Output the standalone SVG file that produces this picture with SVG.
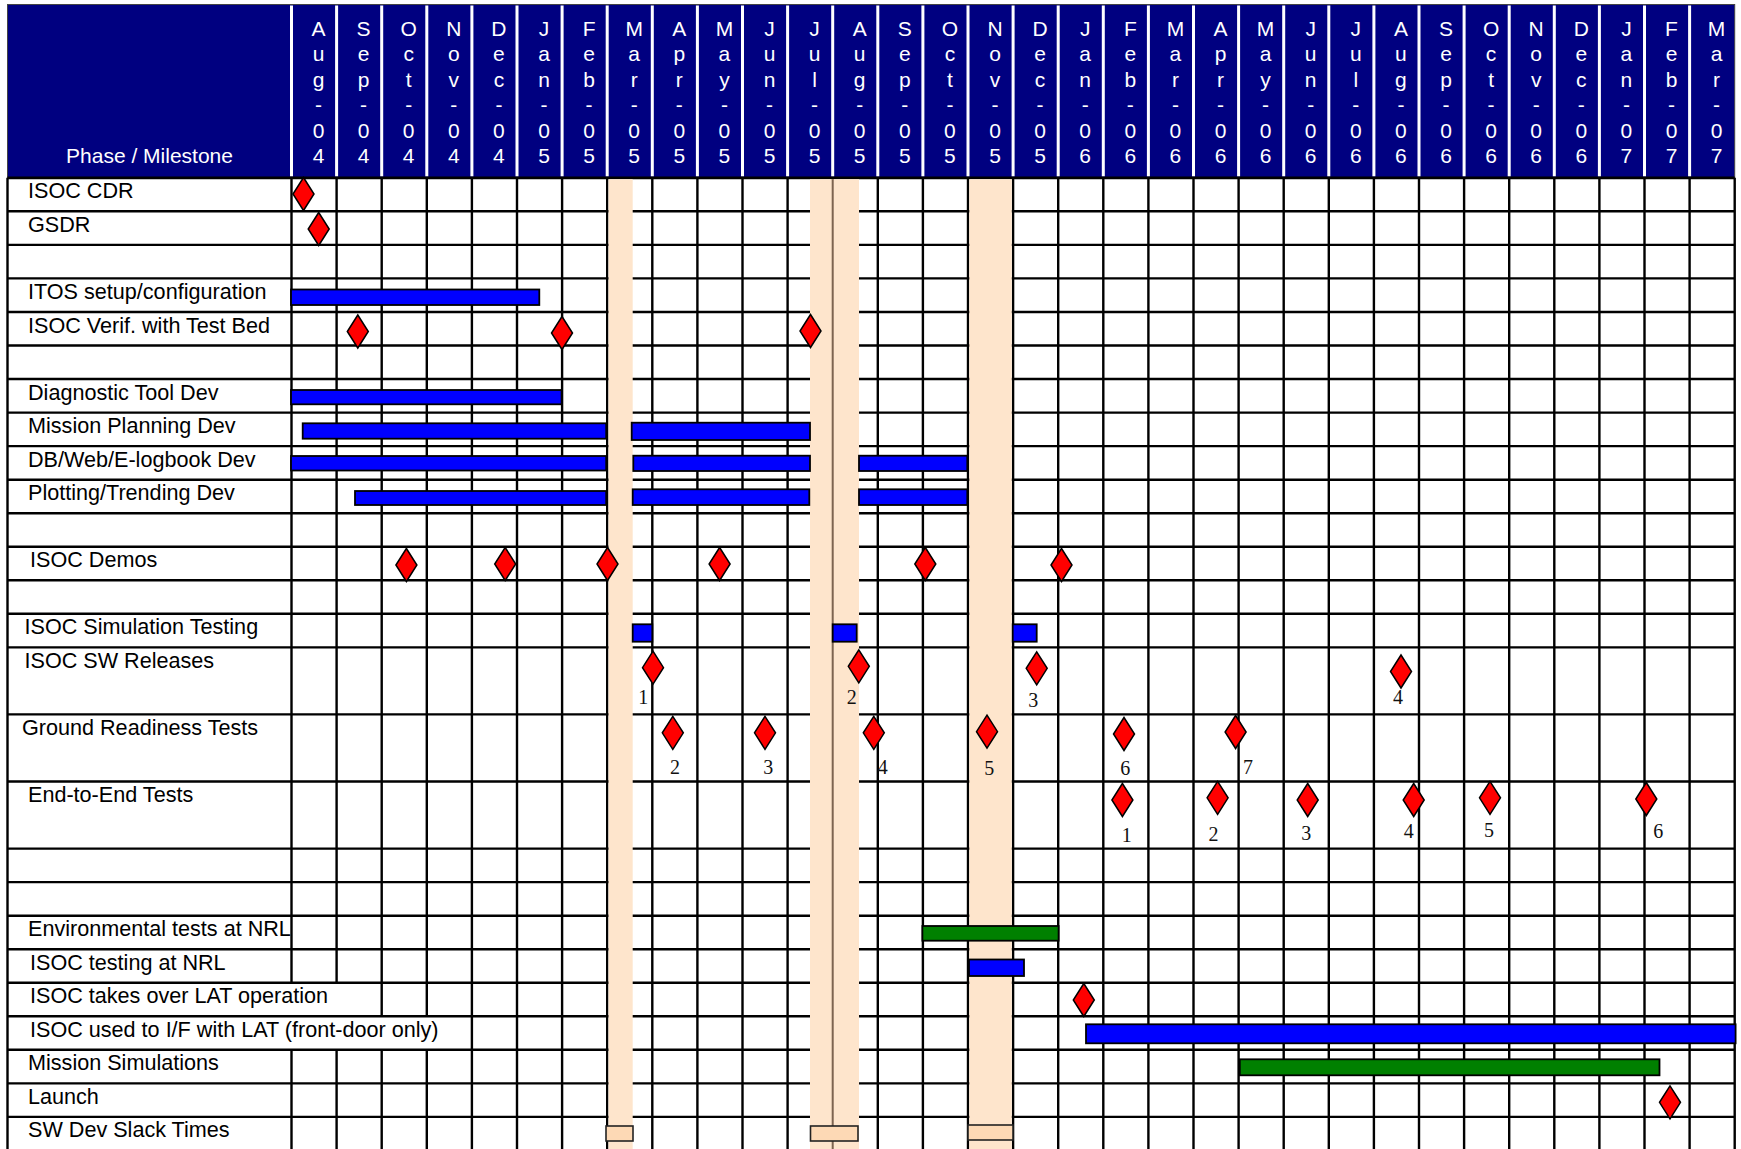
<svg xmlns="http://www.w3.org/2000/svg" xmlns:xlink="http://www.w3.org/1999/xlink" width="1741" height="1149" viewBox="0 0 1741 1149">
<style>
.hd{font-family:"Liberation Sans",Arial,sans-serif;font-size:21px;fill:#fff;text-anchor:middle}
.lb{font-family:"Liberation Sans",Arial,sans-serif;font-size:21.6px;fill:#000}
.num{font-family:"Liberation Serif","Times New Roman",serif;font-size:20px;fill:#111;text-anchor:middle}
.grid{stroke:#000;stroke-width:2.4;fill:none}
.band{fill:#FEE5CC}
.bar{fill:#0000FF;stroke:#000;stroke-width:1.8}
.gbar{fill:#008000;stroke:#000;stroke-width:1.8}
.slack{fill:#FDD9B5;stroke:#222;stroke-width:1.6}
.dia{fill:#FF0000;stroke:#000;stroke-width:1.5}
</style>
<defs>
<path id="dia" d="M0,-16.5 L10.5,0 L0,16.5 L-10.5,0 Z"/>
</defs>
<rect x="0" y="0" width="1741" height="1149" fill="#fff"/>
<g id="header">
<rect x="7.5" y="4.5" width="1727.2" height="173.3" fill="#000080" stroke="#444" stroke-width="1"/>
<path stroke="#fff" stroke-width="3" d="M291.5,5.5V176.5M336.6,5.5V176.5M381.7,5.5V176.5M426.8,5.5V176.5M471.9,5.5V176.5M517,5.5V176.5M562.1,5.5V176.5M607.2,5.5V176.5M652.3,5.5V176.5M697.4,5.5V176.5M742.5,5.5V176.5M787.6,5.5V176.5M832.7,5.5V176.5M877.8,5.5V176.5M922.9,5.5V176.5M968,5.5V176.5M1013.1,5.5V176.5M1058.2,5.5V176.5M1103.3,5.5V176.5M1148.4,5.5V176.5M1193.5,5.5V176.5M1238.6,5.5V176.5M1283.7,5.5V176.5M1328.8,5.5V176.5M1373.9,5.5V176.5M1419,5.5V176.5M1464.1,5.5V176.5M1509.2,5.5V176.5M1554.3,5.5V176.5M1599.4,5.5V176.5M1644.5,5.5V176.5M1689.6,5.5V176.5"/>
<text class="hd" x="149.5" y="163">Phase / Milestone</text>
<text class="hd"><tspan x="318.5" y="35.5">A</tspan><tspan x="318.5" y="61">u</tspan><tspan x="318.5" y="86.5">g</tspan><tspan x="318.5" y="112">-</tspan><tspan x="318.5" y="137.5">0</tspan><tspan x="318.5" y="163">4</tspan></text>
<text class="hd"><tspan x="363.6" y="35.5">S</tspan><tspan x="363.6" y="61">e</tspan><tspan x="363.6" y="86.5">p</tspan><tspan x="363.6" y="112">-</tspan><tspan x="363.6" y="137.5">0</tspan><tspan x="363.6" y="163">4</tspan></text>
<text class="hd"><tspan x="408.7" y="35.5">O</tspan><tspan x="408.7" y="61">c</tspan><tspan x="408.7" y="86.5">t</tspan><tspan x="408.7" y="112">-</tspan><tspan x="408.7" y="137.5">0</tspan><tspan x="408.7" y="163">4</tspan></text>
<text class="hd"><tspan x="453.8" y="35.5">N</tspan><tspan x="453.8" y="61">o</tspan><tspan x="453.8" y="86.5">v</tspan><tspan x="453.8" y="112">-</tspan><tspan x="453.8" y="137.5">0</tspan><tspan x="453.8" y="163">4</tspan></text>
<text class="hd"><tspan x="498.9" y="35.5">D</tspan><tspan x="498.9" y="61">e</tspan><tspan x="498.9" y="86.5">c</tspan><tspan x="498.9" y="112">-</tspan><tspan x="498.9" y="137.5">0</tspan><tspan x="498.9" y="163">4</tspan></text>
<text class="hd"><tspan x="544" y="35.5">J</tspan><tspan x="544" y="61">a</tspan><tspan x="544" y="86.5">n</tspan><tspan x="544" y="112">-</tspan><tspan x="544" y="137.5">0</tspan><tspan x="544" y="163">5</tspan></text>
<text class="hd"><tspan x="589.1" y="35.5">F</tspan><tspan x="589.1" y="61">e</tspan><tspan x="589.1" y="86.5">b</tspan><tspan x="589.1" y="112">-</tspan><tspan x="589.1" y="137.5">0</tspan><tspan x="589.1" y="163">5</tspan></text>
<text class="hd"><tspan x="634.2" y="35.5">M</tspan><tspan x="634.2" y="61">a</tspan><tspan x="634.2" y="86.5">r</tspan><tspan x="634.2" y="112">-</tspan><tspan x="634.2" y="137.5">0</tspan><tspan x="634.2" y="163">5</tspan></text>
<text class="hd"><tspan x="679.3" y="35.5">A</tspan><tspan x="679.3" y="61">p</tspan><tspan x="679.3" y="86.5">r</tspan><tspan x="679.3" y="112">-</tspan><tspan x="679.3" y="137.5">0</tspan><tspan x="679.3" y="163">5</tspan></text>
<text class="hd"><tspan x="724.4" y="35.5">M</tspan><tspan x="724.4" y="61">a</tspan><tspan x="724.4" y="86.5">y</tspan><tspan x="724.4" y="112">-</tspan><tspan x="724.4" y="137.5">0</tspan><tspan x="724.4" y="163">5</tspan></text>
<text class="hd"><tspan x="769.5" y="35.5">J</tspan><tspan x="769.5" y="61">u</tspan><tspan x="769.5" y="86.5">n</tspan><tspan x="769.5" y="112">-</tspan><tspan x="769.5" y="137.5">0</tspan><tspan x="769.5" y="163">5</tspan></text>
<text class="hd"><tspan x="814.6" y="35.5">J</tspan><tspan x="814.6" y="61">u</tspan><tspan x="814.6" y="86.5">l</tspan><tspan x="814.6" y="112">-</tspan><tspan x="814.6" y="137.5">0</tspan><tspan x="814.6" y="163">5</tspan></text>
<text class="hd"><tspan x="859.7" y="35.5">A</tspan><tspan x="859.7" y="61">u</tspan><tspan x="859.7" y="86.5">g</tspan><tspan x="859.7" y="112">-</tspan><tspan x="859.7" y="137.5">0</tspan><tspan x="859.7" y="163">5</tspan></text>
<text class="hd"><tspan x="904.8" y="35.5">S</tspan><tspan x="904.8" y="61">e</tspan><tspan x="904.8" y="86.5">p</tspan><tspan x="904.8" y="112">-</tspan><tspan x="904.8" y="137.5">0</tspan><tspan x="904.8" y="163">5</tspan></text>
<text class="hd"><tspan x="949.9" y="35.5">O</tspan><tspan x="949.9" y="61">c</tspan><tspan x="949.9" y="86.5">t</tspan><tspan x="949.9" y="112">-</tspan><tspan x="949.9" y="137.5">0</tspan><tspan x="949.9" y="163">5</tspan></text>
<text class="hd"><tspan x="995" y="35.5">N</tspan><tspan x="995" y="61">o</tspan><tspan x="995" y="86.5">v</tspan><tspan x="995" y="112">-</tspan><tspan x="995" y="137.5">0</tspan><tspan x="995" y="163">5</tspan></text>
<text class="hd"><tspan x="1040.1" y="35.5">D</tspan><tspan x="1040.1" y="61">e</tspan><tspan x="1040.1" y="86.5">c</tspan><tspan x="1040.1" y="112">-</tspan><tspan x="1040.1" y="137.5">0</tspan><tspan x="1040.1" y="163">5</tspan></text>
<text class="hd"><tspan x="1085.2" y="35.5">J</tspan><tspan x="1085.2" y="61">a</tspan><tspan x="1085.2" y="86.5">n</tspan><tspan x="1085.2" y="112">-</tspan><tspan x="1085.2" y="137.5">0</tspan><tspan x="1085.2" y="163">6</tspan></text>
<text class="hd"><tspan x="1130.3" y="35.5">F</tspan><tspan x="1130.3" y="61">e</tspan><tspan x="1130.3" y="86.5">b</tspan><tspan x="1130.3" y="112">-</tspan><tspan x="1130.3" y="137.5">0</tspan><tspan x="1130.3" y="163">6</tspan></text>
<text class="hd"><tspan x="1175.4" y="35.5">M</tspan><tspan x="1175.4" y="61">a</tspan><tspan x="1175.4" y="86.5">r</tspan><tspan x="1175.4" y="112">-</tspan><tspan x="1175.4" y="137.5">0</tspan><tspan x="1175.4" y="163">6</tspan></text>
<text class="hd"><tspan x="1220.5" y="35.5">A</tspan><tspan x="1220.5" y="61">p</tspan><tspan x="1220.5" y="86.5">r</tspan><tspan x="1220.5" y="112">-</tspan><tspan x="1220.5" y="137.5">0</tspan><tspan x="1220.5" y="163">6</tspan></text>
<text class="hd"><tspan x="1265.6" y="35.5">M</tspan><tspan x="1265.6" y="61">a</tspan><tspan x="1265.6" y="86.5">y</tspan><tspan x="1265.6" y="112">-</tspan><tspan x="1265.6" y="137.5">0</tspan><tspan x="1265.6" y="163">6</tspan></text>
<text class="hd"><tspan x="1310.7" y="35.5">J</tspan><tspan x="1310.7" y="61">u</tspan><tspan x="1310.7" y="86.5">n</tspan><tspan x="1310.7" y="112">-</tspan><tspan x="1310.7" y="137.5">0</tspan><tspan x="1310.7" y="163">6</tspan></text>
<text class="hd"><tspan x="1355.8" y="35.5">J</tspan><tspan x="1355.8" y="61">u</tspan><tspan x="1355.8" y="86.5">l</tspan><tspan x="1355.8" y="112">-</tspan><tspan x="1355.8" y="137.5">0</tspan><tspan x="1355.8" y="163">6</tspan></text>
<text class="hd"><tspan x="1400.9" y="35.5">A</tspan><tspan x="1400.9" y="61">u</tspan><tspan x="1400.9" y="86.5">g</tspan><tspan x="1400.9" y="112">-</tspan><tspan x="1400.9" y="137.5">0</tspan><tspan x="1400.9" y="163">6</tspan></text>
<text class="hd"><tspan x="1446" y="35.5">S</tspan><tspan x="1446" y="61">e</tspan><tspan x="1446" y="86.5">p</tspan><tspan x="1446" y="112">-</tspan><tspan x="1446" y="137.5">0</tspan><tspan x="1446" y="163">6</tspan></text>
<text class="hd"><tspan x="1491.1" y="35.5">O</tspan><tspan x="1491.1" y="61">c</tspan><tspan x="1491.1" y="86.5">t</tspan><tspan x="1491.1" y="112">-</tspan><tspan x="1491.1" y="137.5">0</tspan><tspan x="1491.1" y="163">6</tspan></text>
<text class="hd"><tspan x="1536.2" y="35.5">N</tspan><tspan x="1536.2" y="61">o</tspan><tspan x="1536.2" y="86.5">v</tspan><tspan x="1536.2" y="112">-</tspan><tspan x="1536.2" y="137.5">0</tspan><tspan x="1536.2" y="163">6</tspan></text>
<text class="hd"><tspan x="1581.3" y="35.5">D</tspan><tspan x="1581.3" y="61">e</tspan><tspan x="1581.3" y="86.5">c</tspan><tspan x="1581.3" y="112">-</tspan><tspan x="1581.3" y="137.5">0</tspan><tspan x="1581.3" y="163">6</tspan></text>
<text class="hd"><tspan x="1626.4" y="35.5">J</tspan><tspan x="1626.4" y="61">a</tspan><tspan x="1626.4" y="86.5">n</tspan><tspan x="1626.4" y="112">-</tspan><tspan x="1626.4" y="137.5">0</tspan><tspan x="1626.4" y="163">7</tspan></text>
<text class="hd"><tspan x="1671.5" y="35.5">F</tspan><tspan x="1671.5" y="61">e</tspan><tspan x="1671.5" y="86.5">b</tspan><tspan x="1671.5" y="112">-</tspan><tspan x="1671.5" y="137.5">0</tspan><tspan x="1671.5" y="163">7</tspan></text>
<text class="hd"><tspan x="1716.6" y="35.5">M</tspan><tspan x="1716.6" y="61">a</tspan><tspan x="1716.6" y="86.5">r</tspan><tspan x="1716.6" y="112">-</tspan><tspan x="1716.6" y="137.5">0</tspan><tspan x="1716.6" y="163">7</tspan></text>
</g>
<g id="grid">
<path class="grid" d="M7.5,211.3H1734.7M7.5,244.9H1734.7M7.5,278.4H1734.7M7.5,312H1734.7M7.5,345.5H1734.7M7.5,379H1734.7M7.5,412.6H1734.7M7.5,446.1H1734.7M7.5,479.7H1734.7M7.5,513.2H1734.7M7.5,546.7H1734.7M7.5,580.3H1734.7M7.5,613.8H1734.7M7.5,647.4H1734.7M7.5,714.4H1734.7M7.5,781.5H1734.7M7.5,848.6H1734.7M7.5,882.1H1734.7M7.5,915.7H1734.7M7.5,949.2H1734.7M7.5,982.8H1734.7M7.5,1016.3H1734.7M7.5,1049.8H1734.7M7.5,1083.4H1734.7M7.5,1116.9H1734.7"/>
<path class="grid" d="M7.5,177.8V1149M291.5,177.8V982.8M291.5,1049.8V1149M336.6,177.8V982.8M336.6,1049.8V1149M381.7,177.8V1016.3M381.7,1049.8V1149M426.8,177.8V1016.3M426.8,1049.8V1149M471.9,177.8V1149M517,177.8V1149M562.1,177.8V1149M607.2,177.8V1149M652.3,177.8V1149M697.4,177.8V1149M742.5,177.8V1149M787.6,177.8V1149M832.7,177.8V1149M877.8,177.8V1149M922.9,177.8V1149M968,177.8V1149M1013.1,177.8V1149M1058.2,177.8V1149M1103.3,177.8V1149M1148.4,177.8V1149M1193.5,177.8V1149M1238.6,177.8V1149M1283.7,177.8V1149M1328.8,177.8V1149M1373.9,177.8V1149M1419,177.8V1149M1464.1,177.8V1149M1509.2,177.8V1149M1554.3,177.8V1149M1599.4,177.8V1149M1644.5,177.8V1149M1689.6,177.8V1149M1734.7,177.8V1149"/>
<path stroke="#000" stroke-width="2.8" d="M7.5,177.8H1734.7"/>
</g>
<g id="slack-bands">
<rect class="band" x="608.5" y="179.2" width="24.2" height="970"/>
<rect class="band" x="810" y="179.2" width="49" height="970"/>
<rect class="band" x="969.3" y="179.2" width="42.5" height="970"/>
<path stroke="#7d6450" stroke-width="2" d="M832.7,179.2V1149"/>
</g>
<g id="connectors"></g>
<g id="row-isoc-cdr">
<text class="lb" x="28" y="198.3">ISOC CDR</text>
<use xlink:href="#dia" class="dia" x="303.5" y="194"/>
</g>
<g id="row-gsdr">
<text class="lb" x="28" y="231.8">GSDR</text>
<use xlink:href="#dia" class="dia" x="318.7" y="229"/>
</g>
<g id="row-itos">
<text class="lb" x="28" y="298.9">ITOS setup/configuration</text>
<rect class="bar" x="291" y="289.5" width="248.3" height="15.5"/>
</g>
<g id="row-verif">
<text class="lb" x="28" y="332.5">ISOC Verif. with Test Bed</text>
<use xlink:href="#dia" class="dia" x="357.8" y="331.5"/>
<use xlink:href="#dia" class="dia" x="562" y="333"/>
<use xlink:href="#dia" class="dia" x="810.5" y="331"/>
</g>
<g id="row-diagnostic">
<text class="lb" x="28" y="399.5">Diagnostic Tool Dev</text>
<rect class="bar" x="291" y="390" width="270.6" height="14.3"/>
</g>
<g id="row-mission-planning">
<text class="lb" x="28" y="433.1">Mission Planning Dev</text>
<rect class="bar" x="302.7" y="423.3" width="303.5" height="15.4"/>
<rect class="bar" x="631.7" y="422.7" width="178.3" height="17.3"/>
</g>
<g id="row-db-web">
<text class="lb" x="28" y="466.6">DB/Web/E-logbook Dev</text>
<rect class="bar" x="291" y="456" width="315.2" height="14.5"/>
<rect class="bar" x="633.3" y="455.7" width="176.7" height="15.3"/>
<rect class="bar" x="859" y="455.7" width="108.3" height="15.3"/>
</g>
<g id="row-plotting">
<text class="lb" x="28" y="500.2">Plotting/Trending Dev</text>
<rect class="bar" x="355" y="491" width="251.2" height="14"/>
<rect class="bar" x="632.7" y="489.3" width="176.6" height="15.7"/>
<rect class="bar" x="859" y="489.3" width="108.3" height="15.7"/>
</g>
<g id="row-demos">
<text class="lb" x="30" y="567.2">ISOC Demos</text>
<use xlink:href="#dia" class="dia" x="406.4" y="565"/>
<use xlink:href="#dia" class="dia" x="505.2" y="564"/>
<use xlink:href="#dia" class="dia" x="607.5" y="564"/>
<use xlink:href="#dia" class="dia" x="719.6" y="564"/>
<use xlink:href="#dia" class="dia" x="925.3" y="564"/>
<use xlink:href="#dia" class="dia" x="1061.5" y="565"/>
</g>
<g id="row-sim-testing">
<text class="lb" x="24.5" y="634.3">ISOC Simulation Testing</text>
<rect class="bar" x="632.7" y="624.3" width="19.6" height="17.4"/>
<rect class="bar" x="832.7" y="624.3" width="24" height="17.4"/>
<rect class="bar" x="1012.7" y="624.3" width="24" height="17.4"/>
</g>
<g id="row-sw-releases">
<text class="lb" x="24.5" y="667.9">ISOC SW Releases</text>
<use xlink:href="#dia" class="dia" x="653" y="667.7"/>
<use xlink:href="#dia" class="dia" x="858.8" y="666.3"/>
<use xlink:href="#dia" class="dia" x="1036.7" y="668.3"/>
<use xlink:href="#dia" class="dia" x="1401" y="671.5"/>
<text class="num" x="643.3" y="703.5">1</text>
<text class="num" x="851.7" y="704">2</text>
<text class="num" x="1033.3" y="706.5">3</text>
<text class="num" x="1398" y="703.5">4</text>
</g>
<g id="row-ground-readiness">
<text class="lb" x="22" y="734.9">Ground Readiness Tests</text>
<use xlink:href="#dia" class="dia" x="672.8" y="732.8"/>
<use xlink:href="#dia" class="dia" x="765" y="732.8"/>
<use xlink:href="#dia" class="dia" x="873.8" y="732.8"/>
<use xlink:href="#dia" class="dia" x="987" y="731.7"/>
<use xlink:href="#dia" class="dia" x="1124" y="734"/>
<use xlink:href="#dia" class="dia" x="1235.6" y="732"/>
<text class="num" x="675" y="774">2</text>
<text class="num" x="768.3" y="774">3</text>
<text class="num" x="882.7" y="774">4</text>
<text class="num" x="989.3" y="775">5</text>
<text class="num" x="1125.2" y="775">6</text>
<text class="num" x="1248" y="774">7</text>
</g>
<g id="row-end-to-end">
<text class="lb" x="28" y="802">End-to-End Tests</text>
<use xlink:href="#dia" class="dia" x="1122.4" y="800"/>
<use xlink:href="#dia" class="dia" x="1217.6" y="797.8"/>
<use xlink:href="#dia" class="dia" x="1307.7" y="800"/>
<use xlink:href="#dia" class="dia" x="1413.7" y="800"/>
<use xlink:href="#dia" class="dia" x="1490" y="797.8"/>
<use xlink:href="#dia" class="dia" x="1646.3" y="799"/>
<text class="num" x="1126.7" y="841.7">1</text>
<text class="num" x="1213.6" y="841">2</text>
<text class="num" x="1306.2" y="840">3</text>
<text class="num" x="1408.8" y="838">4</text>
<text class="num" x="1489" y="837">5</text>
<text class="num" x="1658.3" y="837.5">6</text>
</g>
<g id="row-environmental">
<text class="lb" x="28" y="936.2">Environmental tests at NRL</text>
<rect class="gbar" x="922.4" y="926" width="136.2" height="14.7"/>
</g>
<g id="row-nrl-testing">
<text class="lb" x="30" y="969.7">ISOC testing at NRL</text>
<rect class="bar" x="969" y="959.5" width="55" height="16.5"/>
</g>
<g id="row-takes-over">
<text class="lb" x="30" y="1003.3">ISOC takes over LAT operation</text>
<use xlink:href="#dia" class="dia" x="1083.8" y="1000"/>
</g>
<g id="row-isoc-used">
<text class="lb" x="30" y="1036.8">ISOC used to I/F with LAT (front-door only)</text>
<rect class="bar" x="1086" y="1024.3" width="649.6" height="19"/>
</g>
<g id="row-mission-sims">
<text class="lb" x="28" y="1070.3">Mission Simulations</text>
<rect class="gbar" x="1239.8" y="1059.3" width="419.7" height="16"/>
</g>
<g id="row-launch">
<text class="lb" x="28" y="1103.9">Launch</text>
<use xlink:href="#dia" class="dia" x="1670" y="1102.3"/>
</g>
<g id="row-slack">
<text class="lb" x="28" y="1137.4">SW Dev Slack Times</text>
<rect class="slack" x="606" y="1126" width="27" height="15"/>
<rect class="slack" x="810.5" y="1126" width="47.5" height="15"/>
<rect class="slack" x="968" y="1125" width="45" height="15"/>
</g>
</svg>
